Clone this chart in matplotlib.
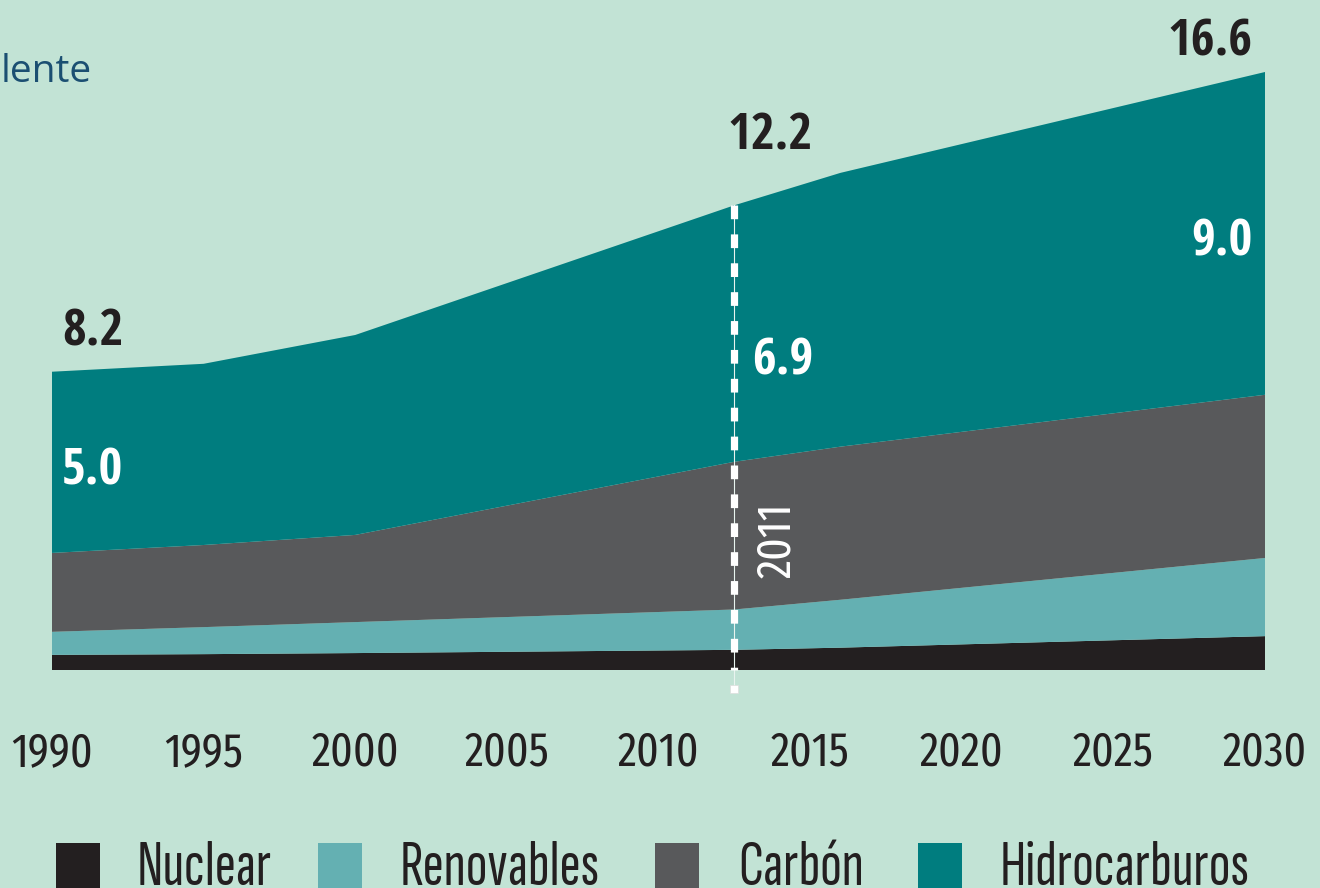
import numpy as np
import matplotlib.pyplot as plt
from matplotlib.patches import Rectangle

# series (positions on the year axis where the outline bends)
years = [1990, 1995, 2000, 2012.5, 2016, 2030]
nuclear = [0.42, 0.44, 0.47, 0.56, 0.62, 0.94]
renovables = [0.64, 0.75, 0.86, 1.12, 1.33, 2.17]
carbon = [2.19, 2.28, 2.42, 4.10, 4.25, 4.53]
hidrocarburos = [5.03, 5.03, 5.55, 7.12, 7.60, 8.96]

series_names = ["Nuclear", "Renovables", "Carbón", "Hidrocarburos"]
colors = ["#231f20", "#64b0b2", "#58595b", "#007d7f"]
tick_years = [1990, 1995, 2000, 2005, 2010, 2015, 2020, 2025, 2030]

ref_year = 2012.5       # where the "2011" marker sits on the axis
ref_label = "2011"
total_labels = ["8.2", "12.2", "16.6"]
hidro_labels = ["5.0", "6.9", "9.0"]

bg = "#c2e3d5"
dark = "#231f20"
cond = ["Fira Sans Extra Condensed", "DejaVu Sans"]
cond_narrow = ["Sofia Sans Extra Condensed", "Fira Sans Extra Condensed", "DejaVu Sans"]
cond_bold = ["Open Sans Condensed", "DejaVu Sans"]

W, H = 1320, 888
fig = plt.figure(figsize=(W / 100, H / 100), dpi=100, facecolor=bg)
ax = fig.add_axes([52 / W, (H - 670) / H, (1265 - 52) / W, (670 - 72) / H])
ax.set_facecolor(bg)

ax.stackplot(years, nuclear, renovables, carbon, hidrocarburos,
             colors=colors, linewidth=0)

total = np.array(nuclear) + np.array(renovables) + np.array(carbon) + np.array(hidrocarburos)
top_ref = np.interp(ref_year, years, total)

# dashed marker for the base year
ax.plot([ref_year, ref_year], [-0.53, top_ref], color="#e8f4ef", lw=0.8,
        clip_on=False, zorder=3)
ax.plot([ref_year, ref_year], [top_ref, 0], color="white", lw=5.2,
        dashes=(1.9, 2.1), clip_on=False, zorder=4)
ax.plot([ref_year], [-0.53], marker="s", ms=5.5, color="white", mec="#dddddd",
        mew=0.5, clip_on=False, zorder=4)
ax.text(2013.9, 3.6, ref_label, rotation=90, color="white", fontsize=34,
        family=cond, ha="center", va="center")

# value labels
lbl = dict(fontsize=37, fontweight="bold", family=cond_bold, va="baseline")
ax.text(1990.33, 9.02, total_labels[0], color=dark, ha="left", **lbl)
ax.text(2012.26, 14.44, total_labels[1], color=dark, ha="left", **lbl)
ax.text(2029.6, 17.07, total_labels[2], color=dark, ha="right", clip_on=False, **lbl)
ax.text(1990.33, 5.14, hidro_labels[0], color="white", ha="left", **lbl)
ax.text(2013.08, 8.19, hidro_labels[1], color="white", ha="left", **lbl)
ax.text(2029.6, 11.52, hidro_labels[2], color="white", ha="right", **lbl)

ax.set_xlim(1990, 2030)
ax.set_ylim(0, 16.6)
ax.set_xticks(tick_years)
ax.set_xticklabels([str(y) for y in tick_years], family=cond, fontsize=34, color=dark)
ax.tick_params(axis="x", length=0, pad=43)
ax.set_yticks([])
for s in ax.spines.values():
    s.set_visible(False)

# clipped title fragment at the top left
fig.text(1 / W, 1 - 82 / H, "lente", family=["Open Sans", "DejaVu Sans"], fontsize=28,
         color="#1b4f72", ha="left", va="baseline")

# legend drawn along the bottom edge
sq_x = [56, 318, 655, 918]
txt_x = [137, 400, 738, 1000]
for name, c, x, tx in zip(series_names, colors, sq_x, txt_x):
    fig.add_artist(Rectangle((x / W, 0), 44 / W, 45 / H, transform=fig.transFigure,
                             facecolor=c, edgecolor="none"))
    fig.text(tx / W, 3 / H, name, family=cond_narrow, fontsize=46,
             color=dark, ha="left", va="baseline")

fig.savefig("out.png", dpi=100, facecolor=bg)
